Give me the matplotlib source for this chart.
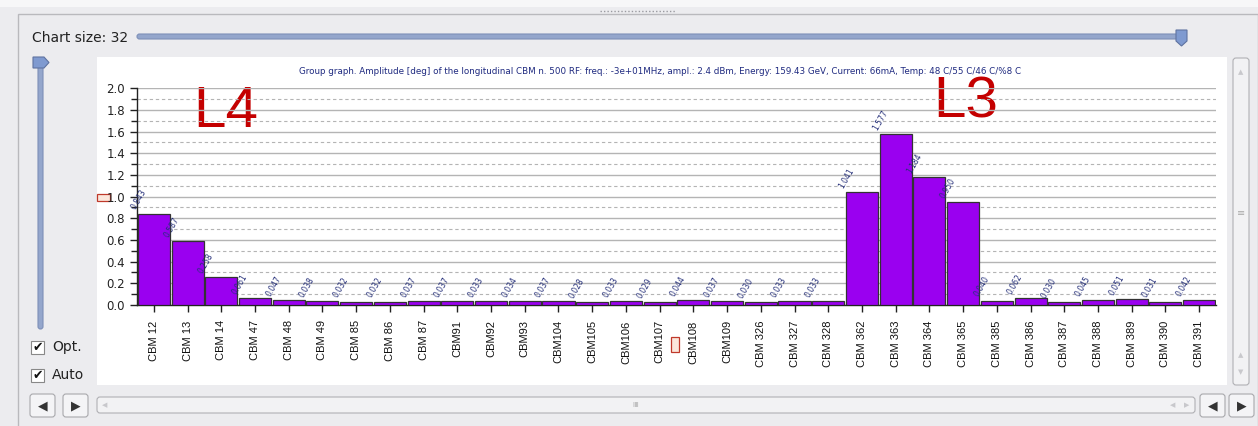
import matplotlib
matplotlib.use("Agg")
import matplotlib.pyplot as plt
from matplotlib.patches import Rectangle, FancyBboxPatch, Polygon
from matplotlib.ticker import MultipleLocator, FormatStrFormatter

categories = ["CBM 12", "CBM 13", "CBM 14", "CBM 47", "CBM 48", "CBM 49", "CBM 85", "CBM 86",
              "CBM 87", "CBM91", "CBM92", "CBM93", "CBM104", "CBM105", "CBM106", "CBM107",
              "CBM108", "CBM109", "CBM 326", "CBM 327", "CBM 328", "CBM 362", "CBM 363",
              "CBM 364", "CBM 365", "CBM 385", "CBM 386", "CBM 387", "CBM 388", "CBM 389",
              "CBM 390", "CBM 391"]
amplitudes = [0.843, 0.587, 0.258, 0.061, 0.047, 0.038, 0.032, 0.032,
              0.037, 0.037, 0.033, 0.034, 0.037, 0.028, 0.033, 0.029,
              0.044, 0.037, 0.030, 0.033, 0.033, 1.041, 1.577,
              1.184, 0.950, 0.040, 0.062, 0.030, 0.045, 0.051,
              0.031, 0.042]
value_labels = ["0.843", "0.587", "0.258", "0.061", "0.047", "0.038", "0.032", "0.032",
                "0.037", "0.037", "0.033", "0.034", "0.037", "0.028", "0.033", "0.029",
                "0.044", "0.037", "0.030", "0.033", "0.033", "1.041", "1.577",
                "1.184", "0.950", "0.040", "0.062", "0.030", "0.045", "0.051",
                "0.031", "0.042"]
title = ("Group graph. Amplitude [deg] of the longitudinal CBM n. 500 RF: freq.: -3e+01MHz, "
         "ampl.: 2.4 dBm, Energy: 159.43 GeV, Current: 66mA, Temp: 48 C/55 C/46 C/%8 C")

W, H = 1258, 426
fig = plt.figure(figsize=(W / 100, H / 100), dpi=100)
fig.patch.set_facecolor("#ececef")

# background GUI layer in pixel coordinates
bg = fig.add_axes([0, 0, 1, 1], zorder=0)
bg.set_xlim(0, W)
bg.set_ylim(H, 0)
bg.axis("off")

bg.add_patch(Rectangle((0, 0), W, 7, facecolor="#f7f7f8", edgecolor="none"))
bg.add_patch(Rectangle((18, 14), 1240, 420, facecolor="#ececef", edgecolor="#b9b9bd", lw=1))
bg.plot([600, 675], [11, 11], ls=(0, (1, 1.5)), color="#9a9aa0", lw=1)

bg.text(32, 38, "Chart size: 32", fontsize=10, va="center", ha="left", color="#222222",
        family="DejaVu Sans")
bg.add_patch(FancyBboxPatch((137, 34), 1045, 5, boxstyle="round,pad=0,rounding_size=2.5",
                            facecolor="#94a6cc", edgecolor="#7d8fb8", lw=0.8))
bg.add_patch(Polygon([(1176, 30), (1187, 30), (1187, 41), (1181.5, 46), (1176, 41)],
                     closed=True, facecolor="#7f9ad0", edgecolor="#5f73a0", lw=0.8))

bg.add_patch(FancyBboxPatch((38, 64), 5, 265, boxstyle="round,pad=0,rounding_size=2.5",
                            facecolor="#94a6cc", edgecolor="#7d8fb8", lw=0.8))
bg.add_patch(Polygon([(33, 57), (44, 57), (49, 62.5), (44, 68), (33, 68)],
                     closed=True, facecolor="#7f9ad0", edgecolor="#5f73a0", lw=0.8))

for yy, lab in [(347, "Opt."), (375, "Auto")]:
    bg.add_patch(Rectangle((31, yy - 6.5), 13, 13, facecolor="white", edgecolor="#888888", lw=0.8))
    bg.text(37.5, yy, "\u2714", fontsize=9, ha="center", va="center", color="#111111",
            family="DejaVu Sans")
    bg.text(52, yy, lab, fontsize=10, ha="left", va="center", color="#222222",
            family="DejaVu Sans")

# chart white panel
bg.add_patch(Rectangle((97, 57), 1130, 328, facecolor="white", edgecolor="none"))

# right vertical scrollbar
bg.add_patch(FancyBboxPatch((1233, 58), 16, 327, boxstyle="round,pad=0,rounding_size=3",
                            facecolor="#f2f2f4", edgecolor="#b0b0b4", lw=0.8))
bg.text(1241, 72, "\u25b2", fontsize=5, ha="center", va="center", color="#c8c8cc")
bg.text(1241, 355, "\u25b2", fontsize=5, ha="center", va="center", color="#c8c8cc")
bg.text(1241, 372, "\u25bc", fontsize=5, ha="center", va="center", color="#c8c8cc")
bg.text(1241, 213, "\u2261", fontsize=7, ha="center", va="center", color="#aaaaaa")

# bottom scrollbar and buttons
bg.add_patch(FancyBboxPatch((97, 397), 1098, 16, boxstyle="round,pad=0,rounding_size=3",
                            facecolor="#f2f2f4", edgecolor="#b0b0b4", lw=0.8))
bg.text(636, 405, "\u2161\u2161", fontsize=5, ha="center", va="center", color="#aaaaaa")
bg.text(105, 405, "\u25c0", fontsize=5, ha="center", va="center", color="#c8c8cc")
bg.text(1173, 405, "\u25c0", fontsize=5, ha="center", va="center", color="#c8c8cc")
bg.text(1187, 405, "\u25b6", fontsize=5, ha="center", va="center", color="#c8c8cc")
for x0, sym in [(30, "\u25c0"), (63, "\u25b6"), (1200, "\u25c0"), (1229, "\u25b6")]:
    bg.add_patch(FancyBboxPatch((x0, 394), 25, 23, boxstyle="round,pad=0,rounding_size=3",
                                facecolor="#f4f4f6", edgecolor="#a8a8ac", lw=0.8))
    bg.text(x0 + 12.5, 405.5, sym, fontsize=9, ha="center", va="center", color="#333333")

# small red markers (GUI artifacts)
bg.add_patch(Rectangle((97, 194), 13, 7, facecolor="#fbe7dc", edgecolor="#c0392b", lw=0.9))
bg.add_patch(Rectangle((671, 337), 8, 15, facecolor="#fbe7dc", edgecolor="#c0392b", lw=0.9))

# chart axes
x_left, x_right, y_top, y_bot = 137, 1216, 88.3, 305
ax = fig.add_axes([x_left / W, 1 - y_bot / H, (x_right - x_left) / W, (y_bot - y_top) / H],
                  zorder=2)
ax.patch.set_alpha(0)
xs = list(range(len(categories)))
ax.bar(xs, amplitudes, width=0.95, color="#9a00f0", edgecolor="#333333", linewidth=0.9,
       zorder=3)
ax.set_xlim(-0.5, len(categories) - 0.5)
ax.set_ylim(0, 2.0)
ax.yaxis.set_major_locator(MultipleLocator(0.2))
ax.yaxis.set_minor_locator(MultipleLocator(0.1))
ax.yaxis.set_major_formatter(FormatStrFormatter("%.1f"))
ax.grid(axis="y", which="major", color="#b4b4b4", lw=1.0, zorder=0)
ax.grid(axis="y", which="minor", color="#b4b4b4", lw=0.8, ls=(0, (3, 2.5)), zorder=0)
ax.set_axisbelow(True)
for s in ["top", "right"]:
    ax.spines[s].set_visible(False)
ax.spines["left"].set_color("#222222")
ax.spines["bottom"].set_color("#222222")
ax.spines["left"].set_linewidth(1.0)
ax.spines["bottom"].set_linewidth(1.0)
ax.set_xticks(xs)
ax.set_xticklabels(categories, rotation=90, fontsize=8, family="Liberation Sans",
                   color="#111111")
ax.tick_params(axis="x", length=5, width=1, pad=6, color="#222222")
ax.tick_params(axis="y", which="major", length=5, width=1, labelsize=8.5, color="#222222",
               labelcolor="#222222")
ax.tick_params(axis="y", which="minor", length=4, width=1, color="#222222")

for x, v, lab in zip(xs, amplitudes, value_labels):
    ax.text(x - 0.5, v + 0.02, lab, rotation=60, rotation_mode="anchor", ha="left",
            va="bottom", fontsize=5.5, color="#26307a", zorder=4, clip_on=False)

bg.text(660, 71, title, fontsize=6.3, ha="center", va="center", color="#1f2a80",
        family="DejaVu Sans")

bg.text(193, 112, "L4", fontsize=42, ha="left", va="center", color="#c40000",
        family="Liberation Sans")
bg.text(933, 102, "L3", fontsize=42, ha="left", va="center", color="#c40000",
        family="Liberation Sans")

fig.savefig("out.png", dpi=100)
